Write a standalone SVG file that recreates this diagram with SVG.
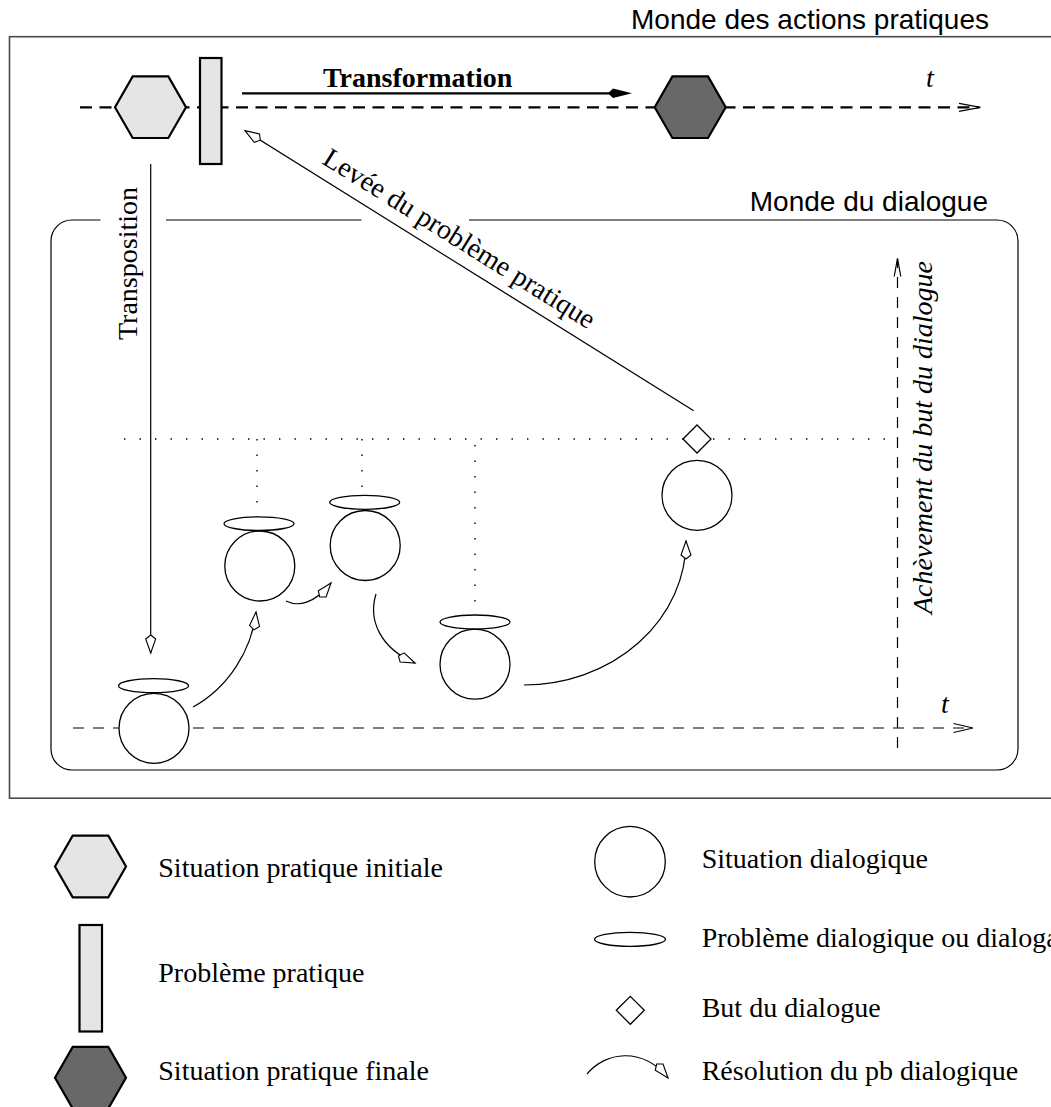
<svg xmlns="http://www.w3.org/2000/svg" width="1051" height="1107" viewBox="0 0 1051 1107">
<style>
.serif{font-family:"Liberation Serif","Times New Roman",serif;font-size:28px;fill:#000}
.it{font-style:italic}
.bold{font-weight:bold}
.sans{font-family:"Liberation Sans",Arial,sans-serif;font-size:28px;fill:#000}
.thin{fill:none;stroke:#000;stroke-width:1.2}
.shape{fill:#fff;stroke:#000;stroke-width:1.3}
.thick{stroke:#000;stroke-width:2.2}
.light{fill:#e5e5e5}
.dark{fill:#686868}
.dot{fill:none;stroke:#000;stroke-width:1.4;stroke-dasharray:1.4 14.1}
.dash{fill:none;stroke:#000;stroke-width:1.2;stroke-dasharray:11 9}
.bigdash{fill:none;stroke:#000;stroke-width:2.2;stroke-dasharray:12 7.5}
</style>
<defs>
<polygon id="hex" points="-35.5,0 -17.8,-30.8 17.8,-30.8 35.5,0 17.8,30.8 -17.8,30.8"/>
<marker id="kite" markerUnits="userSpaceOnUse" viewBox="0 0 24 14" refX="21" refY="7" markerWidth="24" markerHeight="14" orient="auto"><path d="M21,7 L7,2 L3,7 L7,12 Z" fill="#fff" stroke="#000" stroke-width="1.1"/></marker>
</defs>
<rect x="0" y="0" width="1051" height="1107" fill="#fff"/>

<g id="frames">
<rect x="9.5" y="36.7" width="1060" height="761.5" fill="none" stroke="#4a4a4a" stroke-width="1.6"/>
<path class="thin" d="M100.5,220 H72 A21,21 0 0 0 51,241 V749 A21,21 0 0 0 72,770 H997 A21,21 0 0 0 1018,749 V241 A21,21 0 0 0 997,220 H469 M166,220 H361.5"/>
<text class="sans" x="989" y="28.5" text-anchor="end">Monde des actions pratiques</text>
<text class="sans" x="988" y="211" text-anchor="end">Monde du dialogue</text>
</g>

<g id="axes">
<line class="bigdash" x1="80" y1="107.3" x2="979" y2="107.3"/>
<polyline class="thin" points="959,103.3 980.5,107.3 959,111.3"/>
<text class="serif it" x="926" y="87">t</text>
<line class="dash" x1="73" y1="728" x2="972" y2="728"/>
<polyline class="thin" points="953.5,723.5 973,728 953.5,732.5"/>
<text class="serif it" x="941" y="713">t</text>
<line class="dash" x1="897.5" y1="748" x2="897.5" y2="259"/>
<polyline class="thin" points="894.2,276.5 897.5,258.3 900.8,276.5"/>
<text class="serif it" transform="translate(932,614) rotate(-90)">Achèvement du but du dialogue</text>
<line class="dot" x1="124" y1="439" x2="897" y2="439"/>
<line class="dot" x1="257" y1="439" x2="257" y2="517"/>
<line class="dot" x1="362" y1="439" x2="362" y2="495"/>
<line class="dot" x1="475" y1="445" x2="475" y2="615"/>
</g>

<g id="connectors">
<line class="thick" x1="242" y1="93.3" x2="612" y2="93.3"/>
<polygon points="608,93.3 613,88.6 632,93.3 613,98" fill="#000"/>
<text class="serif bold" x="323" y="87.3">Transformation</text>
<path class="thin" d="M150.7,164 V653" marker-end="url(#kite)"/>
<text class="serif" transform="translate(137,340) rotate(-90)">Transposition</text>
<path class="thin" d="M693.7,410.7 L245,130.7" marker-end="url(#kite)"/>
<text class="serif" transform="translate(321,163) rotate(31.96)">Levée du problème pratique</text>
<path class="thin" d="M193,707 C228,688 252,650 256,612" marker-end="url(#kite)"/>
<path class="thin" d="M286,601 C298,607 314,604 331,583" marker-end="url(#kite)"/>
<path class="thin" d="M376,594 C368,620 380,648 415,663" marker-end="url(#kite)"/>
<path class="thin" d="M524,685 A162,144 0 0 0 686,541" marker-end="url(#kite)"/>
</g>

<g id="sit-initiale"><use href="#hex" x="150.5" y="107.2" class="light" stroke="#000" stroke-width="2.2"/></g>
<g id="pb-pratique"><rect x="200" y="58" width="21.5" height="106" class="light" stroke="#000" stroke-width="2.2"/></g>
<g id="sit-finale"><use href="#hex" x="690.2" y="107.2" class="dark" stroke="#000" stroke-width="2.2"/></g>

<g id="d1"><circle class="shape" cx="154" cy="728.3" r="35"/><ellipse class="shape" cx="153.5" cy="685.7" rx="35" ry="7"/></g>
<g id="d2"><circle class="shape" cx="259.8" cy="566" r="35"/><ellipse class="shape" cx="259" cy="523.7" rx="35" ry="6.8"/></g>
<g id="d3"><circle class="shape" cx="365.2" cy="545.5" r="35"/><ellipse class="shape" cx="364.7" cy="502.3" rx="35" ry="7"/></g>
<g id="d4"><circle class="shape" cx="475" cy="664.2" r="35"/><ellipse class="shape" cx="475" cy="622" rx="35" ry="7"/></g>
<g id="d5"><circle class="shape" cx="697" cy="495.3" r="35"/></g>
<g id="but"><polygon class="shape" points="683,439 697,425 711,439 697,453"/></g>

<g id="legend">
<use href="#hex" x="90.5" y="866.5" class="light" stroke="#000" stroke-width="2.2"/>
<text class="serif" x="158.3" y="876.7">Situation pratique initiale</text>
<rect x="79.5" y="925" width="22.5" height="106.5" class="light" stroke="#000" stroke-width="2.2"/>
<text class="serif" x="158.3" y="981.7">Problème pratique</text>
<use href="#hex" x="90.5" y="1077.7" class="dark" stroke="#000" stroke-width="2.2"/>
<text class="serif" x="158.3" y="1080">Situation pratique finale</text>
<circle class="shape" cx="630" cy="861.7" r="35.3"/>
<text class="serif" x="701.7" y="868.3">Situation dialogique</text>
<ellipse class="shape" cx="630" cy="939.3" rx="35.5" ry="7"/>
<text class="serif" x="701.7" y="946.7">Problème dialogique ou dialogal</text>
<polygon class="shape" points="616.3,1010.3 630.3,996.3 644.3,1010.3 630.3,1024.3"/>
<text class="serif" x="701.7" y="1016.7">But du dialogue</text>
<path class="thin" d="M587,1074 C605,1052 642,1046 668,1078" marker-end="url(#kite)"/>
<text class="serif" x="701.7" y="1080">Résolution du pb dialogique</text>
</g>
</svg>
